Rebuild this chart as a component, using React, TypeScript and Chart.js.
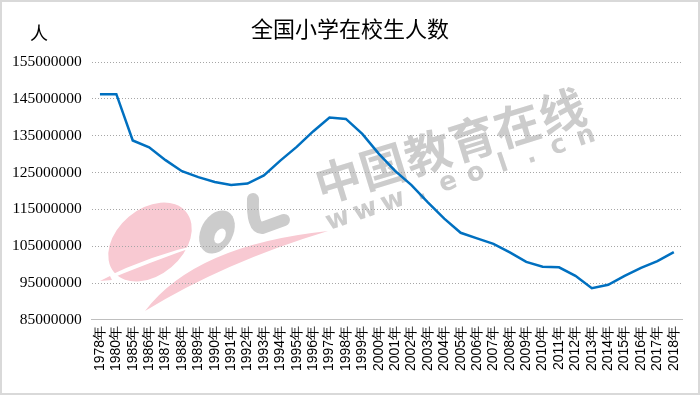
import React, { useEffect, useRef } from "react";
import { Chart, registerables } from "chart.js";

Chart.register(...registerables);

const years: string[] = [
  "1978年", "1980年", "1985年", "1986年", "1987年", "1988年", "1989年", "1990年", "1991年",
  "1992年", "1993年", "1994年", "1995年", "1996年", "1997年", "1998年", "1999年", "2000年",
  "2001年", "2002年", "2003年", "2004年", "2005年", "2006年", "2007年", "2008年", "2009年",
  "2010年", "2011年", "2012年", "2013年", "2014年", "2015年", "2016年", "2017年", "2018年",
];

const students: number[] = [
  146240000, 146270000, 133700000, 131830000, 128360000, 125360000, 123730000, 122410000, 121640000,
  122010000, 124210000, 128230000, 131950000, 136150000, 139950000, 139540000, 135480000, 130130000,
  125430000, 121570000, 116900000, 112460000, 108640000, 107120000, 105640000, 103320000, 100720000,
  99410000, 99260000, 96960000, 93610000, 94510000, 96920000, 99130000, 100940000, 103390000,
];

const yMin = 85000000;
const yMax = 155000000;
const yStep = 10000000;

const titleText = "全国小学在校生人数";
const unitText = "人";
const watermarkMain = "中国教育在线";
const watermarkSub = "www.eol.cn";

function drawSpaced(ctx: any, text: string, x0: number, y0: number, x1: number, y1: number, font: string) {
  const chars = Array.from(text);
  const n = chars.length;
  ctx.save();
  ctx.font = font;
  ctx.textAlign = "center";
  ctx.textBaseline = "middle";
  const ang = Math.atan2(y1 - y0, x1 - x0);
  for (let i = 0; i < n; i++) {
    const t = n === 1 ? 0 : i / (n - 1);
    ctx.save();
    ctx.translate(x0 + (x1 - x0) * t, y0 + (y1 - y0) * t);
    ctx.rotate(ang);
    ctx.fillText(chars[i], 0, 0);
    ctx.restore();
  }
  ctx.restore();
}

const watermarkPlugin = {
  id: "watermark",
  beforeDraw(chart: any) {
    const ctx = chart.ctx;
    ctx.save();
    ctx.translate(-2, -2);
    // pink "e"
    ctx.fillStyle = "#F8C9D2";
    ctx.beginPath();
    ctx.ellipse(150, 242, 47, 33, -0.7, 0, Math.PI * 2);
    ctx.fill();
    // white cut through "e"
    ctx.fillStyle = "#fff";
    ctx.beginPath();
    ctx.moveTo(100, 280);
    ctx.quadraticCurveTo(150, 255, 205, 243);
    ctx.quadraticCurveTo(150, 262, 100, 283);
    ctx.closePath();
    ctx.fill();
    ctx.beginPath();
    ctx.moveTo(100, 281);
    ctx.lineTo(110, 276);
    ctx.lineTo(112, 280);
    ctx.closePath();
    ctx.fillStyle = "#F8C9D2";
    ctx.fill();
    // pink swoosh
    ctx.fillStyle = "#F8C9D2";
    ctx.beginPath();
    ctx.moveTo(145, 311);
    ctx.quadraticCurveTo(195, 245, 328, 231);
    ctx.quadraticCurveTo(225, 262, 145, 311);
    ctx.closePath();
    ctx.fill();
    // gray "o"
    ctx.fillStyle = "#CCCCCC";
    ctx.beginPath();
    ctx.ellipse(217, 232, 16, 23, 0.5, 0, Math.PI * 2);
    ctx.fill();
    ctx.fillStyle = "#fff";
    ctx.beginPath();
    ctx.ellipse(220, 236, 5, 8, 0.5, 0, Math.PI * 2);
    ctx.fill();
    // gray "l"
    ctx.strokeStyle = "#CCCCCC";
    ctx.lineWidth = 12;
    ctx.lineCap = "round";
    ctx.lineJoin = "round";
    ctx.beginPath();
    ctx.moveTo(253, 199);
    ctx.quadraticCurveTo(252, 228, 262, 228);
    ctx.lineTo(284, 220);
    ctx.stroke();
    // text watermark
    ctx.fillStyle = "#CCCCCC";
    drawSpaced(ctx, watermarkMain, 338, 180, 562, 111, "bold 46px 'Noto Sans CJK SC'");
    drawSpaced(ctx, watermarkSub, 338, 220, 586, 137, "bold 26px 'DejaVu Sans'");
    ctx.restore();
  },
};

export default function App() {
  const canvasRef = useRef<HTMLCanvasElement | null>(null);

  useEffect(() => {
    document.body.style.margin = "0";
    const canvas = canvasRef.current;
    if (!canvas) return;
    const chart = new Chart(canvas, {
      type: "line",
      data: {
        labels: years,
        datasets: [
          {
            data: students,
            borderColor: "#0070C0",
            borderWidth: 2.5,
            pointRadius: 0,
            tension: 0,
            fill: false,
          },
        ],
      },
      options: {
        responsive: false,
        animation: false,
        layout: { padding: { left: 0, right: 16, top: 60, bottom: 16 } },
        plugins: {
          legend: { display: false },
          tooltip: { enabled: false },
          title: { display: false },
        },
        scales: {
          x: {
            offset: true,
            grid: { display: false, drawTicks: false },
            border: { display: true, color: "#BFBFBF", width: 1 },
            ticks: {
              autoSkip: false,
              maxRotation: 90,
              minRotation: 90,
              padding: 6,
              color: "#000",
              font: { family: "'Liberation Sans'", size: 14 },
            },
          },
          y: {
            min: yMin,
            max: yMax,
            grid: { color: "#A6A6A6", drawTicks: false, lineWidth: 1 },
            border: { display: false, dash: [1, 2] },
            ticks: {
              stepSize: yStep,
              padding: 10,
              color: "#000",
              font: { family: "'Liberation Serif'", size: 15.5 },
              callback: (v: any) => String(v),
            },
          },
        },
      },
      plugins: [watermarkPlugin],
    });
    return () => chart.destroy();
  }, []);

  return (
    <div
      style={{
        position: "relative",
        width: 700,
        height: 395,
        boxSizing: "border-box",
        border: "2px solid #D9D9D9",
        background: "#fff",
        overflow: "hidden",
      }}
    >
      <canvas ref={canvasRef} width={696} height={391} style={{ display: "block" }} />
      <div
        style={{
          position: "absolute",
          left: 0,
          width: 696,
          top: 11,
          textAlign: "center",
          fontFamily: "'Noto Sans CJK SC'",
          fontSize: 22,
          lineHeight: "28px",
          color: "#000",
        }}
      >
        {titleText}
      </div>
      <div
        style={{
          position: "absolute",
          left: 28,
          top: 20,
          fontFamily: "'Noto Sans CJK SC'",
          fontSize: 18,
          color: "#000",
          lineHeight: "20px",
        }}
      >
        {unitText}
      </div>
    </div>
  );
}
